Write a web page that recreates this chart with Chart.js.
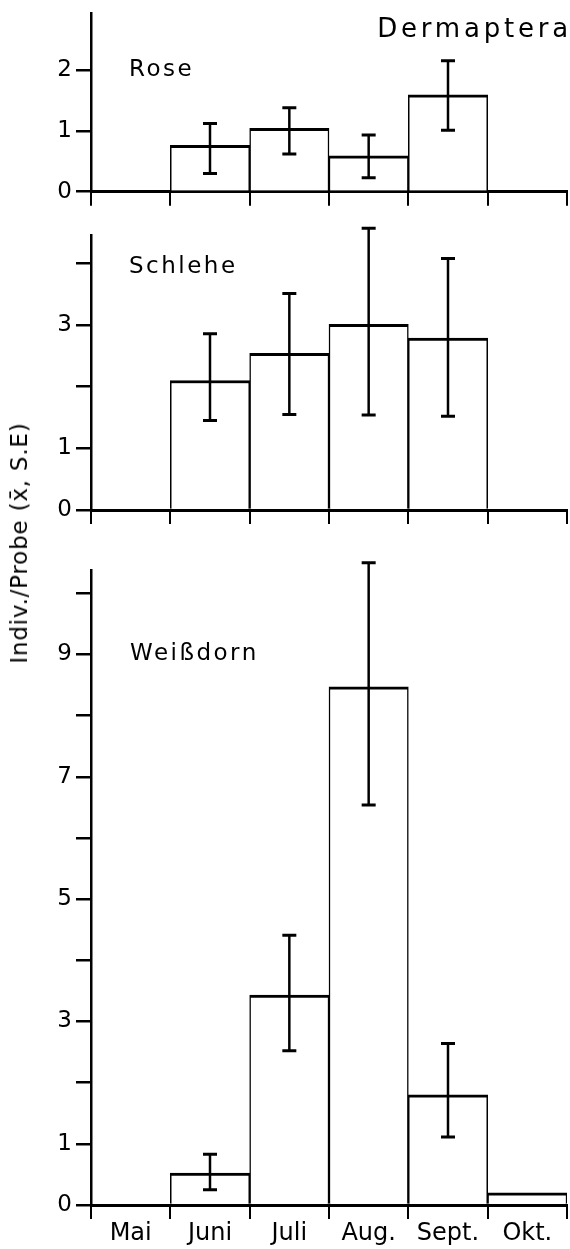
<!DOCTYPE html>
<html><head><meta charset="utf-8">
<script src="https://cdn.jsdelivr.net/npm/chart.js@4.4.1/dist/chart.umd.min.js"></script>
<style>
html,body{margin:0;padding:0;background:#fff;width:570px;height:1249px;overflow:hidden;position:relative;}
canvas{position:absolute;left:0;}
#ytitle{position:absolute;left:19px;top:543px;transform:translate(-50%,-50%) rotate(-90deg);white-space:nowrap;font:23px 'DejaVu Sans';letter-spacing:0.8px;color:#000;}
</style></head><body>
<canvas id="c1" width="570" height="215" style="top:0px;width:570px;height:215px"></canvas>
<canvas id="c2" width="570" height="320" style="top:215px;width:570px;height:320px"></canvas>
<canvas id="c3" width="570" height="714" style="top:535px;width:570px;height:714px"></canvas>
<div id="ytitle">Indiv./Probe (x̄, S.E)</div>
<script>
// ---- data ----
const categories = ['Mai', 'Juni', 'Juli', 'Aug.', 'Sept.', 'Okt.'];

const roseMean = [null, 0.76, 1.04, 0.59, 1.59, null];
const roseLow  = [null, 0.30, 0.62, 0.23, 1.01, null];
const roseHigh = [null, 1.12, 1.38, 0.93, 2.15, null];

const schleheMean = [null, 2.10, 2.54, 3.01, 2.79, null];
const schleheLow  = [null, 1.45, 1.55, 1.54, 1.52, null];
const schleheHigh = [null, 2.86, 3.51, 4.57, 4.08, null];

const weissMean = [null, 0.52, 3.43, 8.47, 1.80, 0.20];
const weissLow  = [null, 0.25, 2.52, 6.54, 1.11, null];
const weissHigh = [null, 0.83, 4.41, 10.50, 2.64, null];

const roseTicksMax = 2.93, schleheTicksMax = 4.46, weissTicksMax = 10.38;

// ---- plugins ----
const errBars = {
  id: 'errbars',
  afterDatasetsDraw(chart, args, opts) {
    const ctx = chart.ctx, xs = chart.scales.x, ys = chart.scales.y;
    ctx.save();
    ctx.strokeStyle = '#000';
    opts.low.forEach((lo, i) => {
      const hi = opts.high[i];
      if (lo == null || hi == null) return;
      const x = xs.getPixelForValue(i);
      const y1 = ys.getPixelForValue(hi), y2 = ys.getPixelForValue(lo);
      ctx.lineWidth = 2.5;
      ctx.beginPath(); ctx.moveTo(x, y1); ctx.lineTo(x, y2); ctx.stroke();
      ctx.lineWidth = 3;
      ctx.beginPath();
      ctx.moveTo(x - 7, y1); ctx.lineTo(x + 7, y1);
      ctx.moveTo(x - 7, y2); ctx.lineTo(x + 7, y2);
      ctx.stroke();
    });
    ctx.restore();
  }
};
const panelText = {
  id: 'paneltext',
  afterDraw(chart, args, opts) {
    const ctx = chart.ctx, a = chart.chartArea;
    ctx.save();
    ctx.fillStyle = '#000';
    (opts.items || []).forEach(t => {
      ctx.font = t.font;
      ctx.letterSpacing = t.spacing + 'px';
      ctx.textAlign = t.align || 'left';
      ctx.textBaseline = t.baseline || 'middle';
      const x = t.abs ? t.x : a.left + t.x;
      const y = t.abs ? t.y : a.top + t.y;
      ctx.fillText(t.text, x, y);
    });
    ctx.restore();
  }
};

function makePanel(id, mean, low, high, ymax, padTop, xH, showX, oddOnly, items) {
  return new Chart(document.getElementById(id), {
    type: 'bar',
    data: {
      labels: categories,
      datasets: [{
        data: mean,
        backgroundColor: '#fff',
        borderColor: '#000',
        borderWidth: {top: 3, left: 1.5, right: 1.5, bottom: 0},
        borderSkipped: false,
        barPercentage: 1,
        categoryPercentage: 1
      }]
    },
    plugins: [errBars, panelText],
    options: {
      responsive: false,
      animation: false,
      devicePixelRatio: 1,
      layout: {padding: {top: padTop, left: 0, right: 3, bottom: 0}},
      plugins: {
        legend: {display: false},
        tooltip: {enabled: false},
        title: {display: false},
        errbars: {low: low, high: high},
        paneltext: {items: items}
      },
      scales: {
        x: {
          type: 'category',
          offset: true,
          grid: {offset: true, drawOnChartArea: false, drawTicks: true, tickLength: 14, color: '#000', lineWidth: 2},
          border: {display: true, color: '#000', width: 3},
          ticks: {display: showX, color: '#000', font: {family: 'DejaVu Sans', size: 24}, padding: 0, maxRotation: 0, autoSkip: false},
          afterFit(s) { s.height = xH; s.paddingLeft = 0; s.paddingRight = 0; }
        },
        y: {
          min: 0, max: ymax,
          grid: {drawOnChartArea: false, drawTicks: true, tickLength: 15, color: '#000', lineWidth: 2.5},
          border: {display: true, color: '#000', width: 2.5},
          ticks: {
            stepSize: 1, includeBounds: false, autoSkip: false,
            color: '#000', font: {family: 'DejaVu Sans', size: 23}, padding: 4,
            callback: (v) => (!oddOnly || v === 0 || v % 2 === 1) ? String(v) : ''
          },
          afterFit(s) { s.width = 91; s.paddingTop = 0; s.paddingBottom = 0; }
        }
      }
    }
  });
}

makePanel('c1', roseMean, roseLow, roseHigh, roseTicksMax, 13.3, 23.3, false, false, [
  {text: 'Rose', x: 38, y: 57, font: '23px "DejaVu Sans"', spacing: 2.5},
  {text: 'Dermaptera', x: 572, y: 37, abs: true, align: 'right', baseline: 'alphabetic', font: '26px "DejaVu Sans"', spacing: 3.8}
]);
makePanel('c2', schleheMean, schleheLow, schleheHigh, schleheTicksMax, 20, 25, false, true, [
  {text: 'Schlehe', x: 38, y: 32, font: '23px "DejaVu Sans"', spacing: 2.5}
]);
makePanel('c3', weissMean, weissLow, weissHigh, weissTicksMax, 35, 44, true, true, [
  {text: 'Weißdorn', x: 39, y: 84, font: '23px "DejaVu Sans"', spacing: 2.5}
]);
</script>
</body></html>
